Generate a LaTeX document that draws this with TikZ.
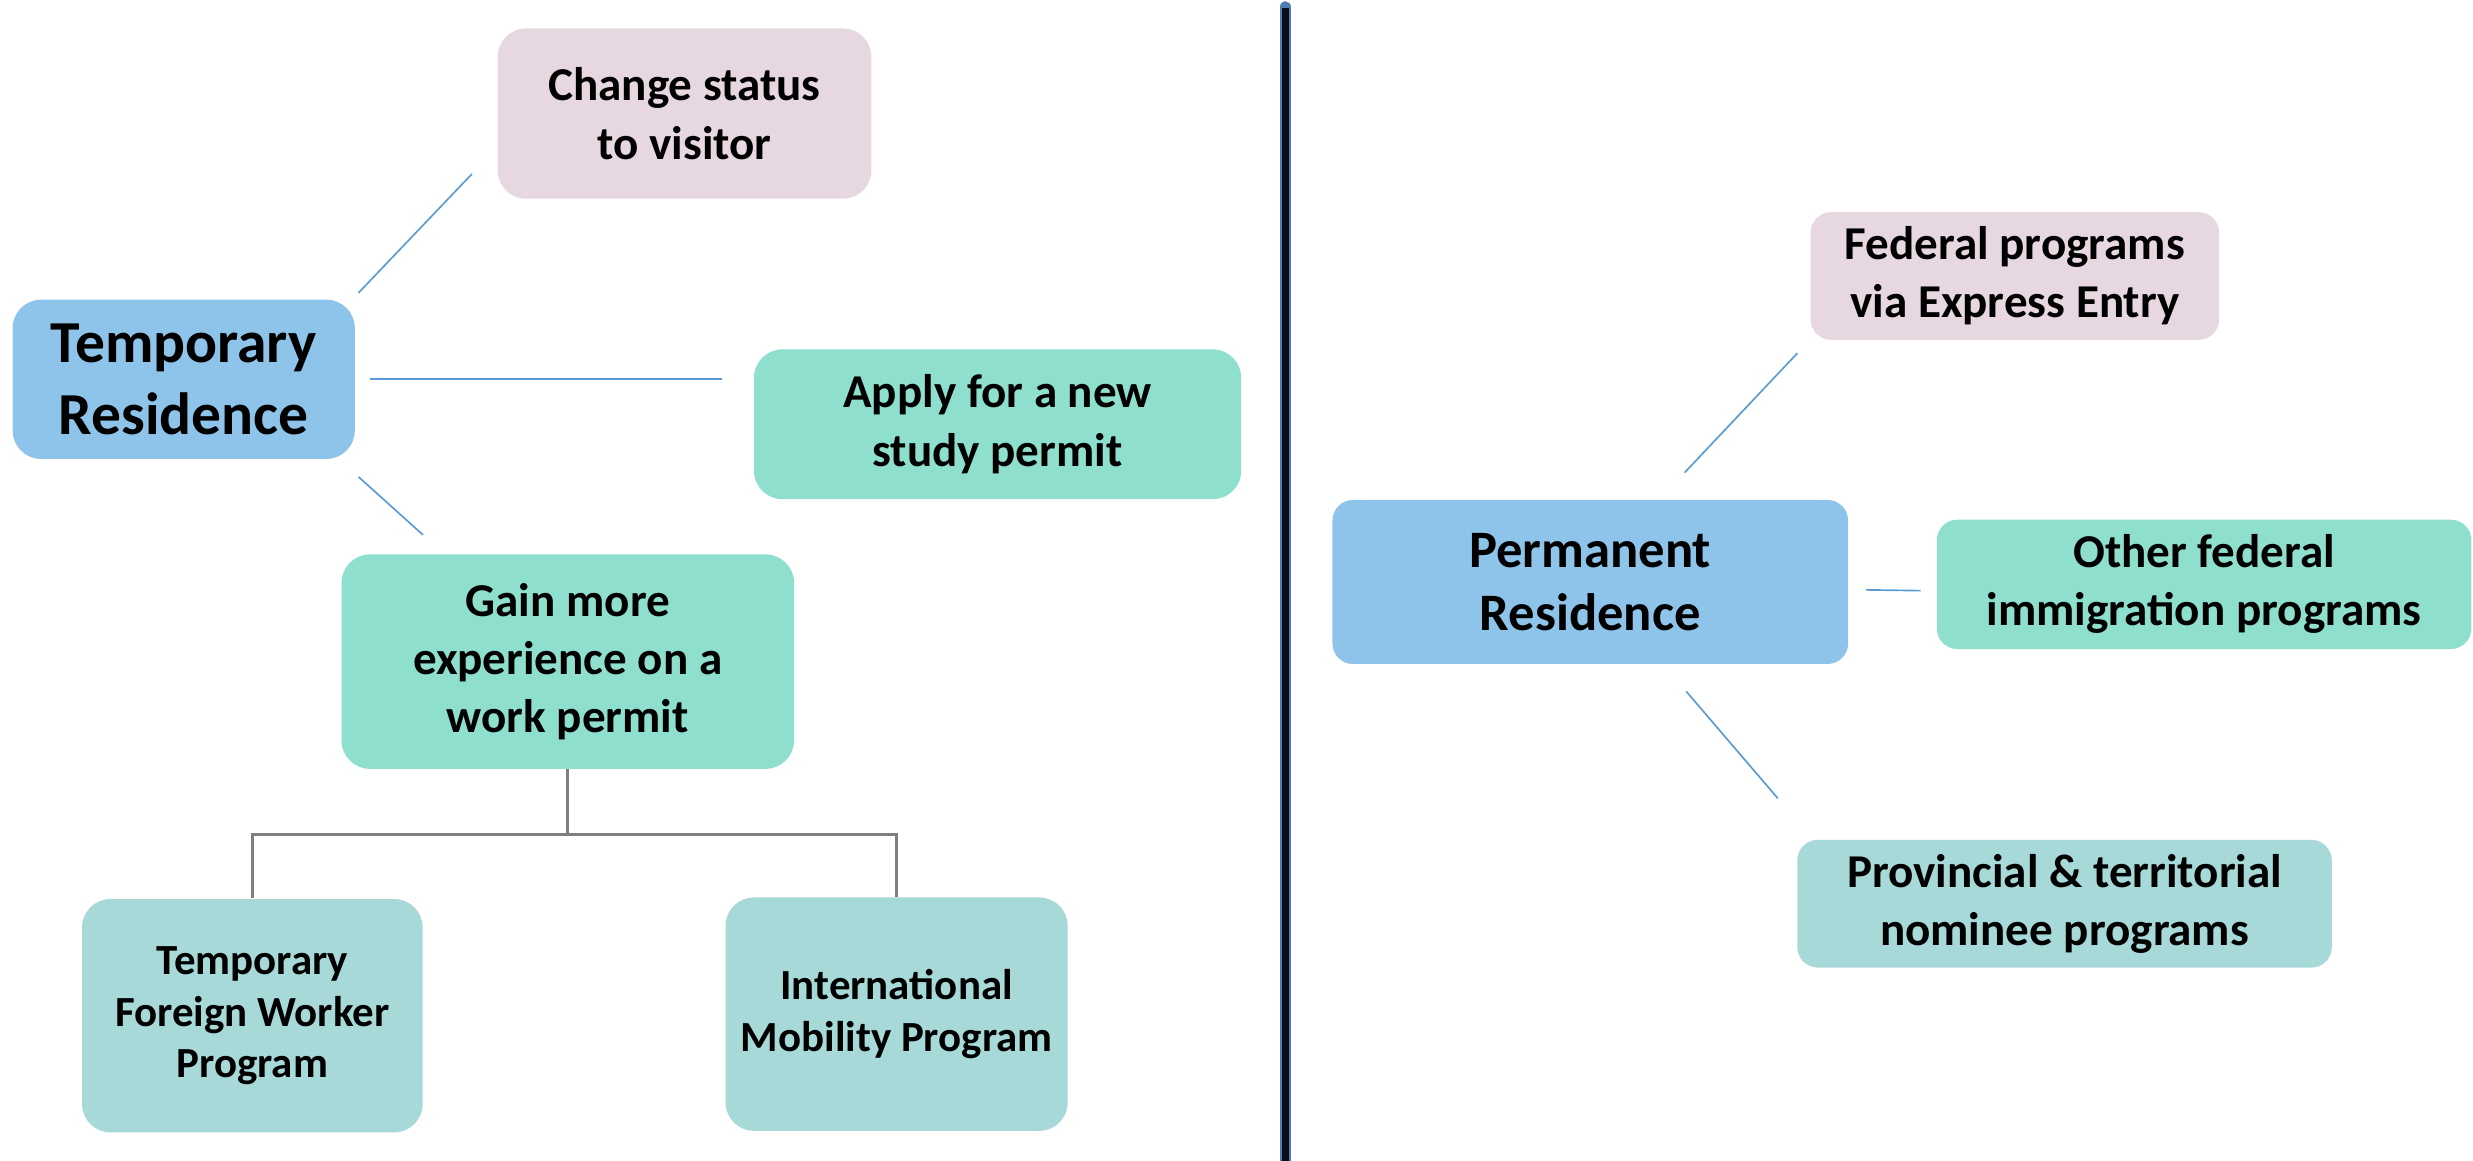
\documentclass[tikz,border=0pt]{standalone}
\usepackage{fontspec}
\setmainfont{Carlito}
\usepackage{xcolor}
\usetikzlibrary{calc}
\definecolor{hubfill}{HTML}{8EC4E9}
\definecolor{rosefill}{HTML}{E7D7E1}
\definecolor{mintfill}{HTML}{8EDFCD}
\definecolor{seafill}{HTML}{A6D9D7}
\definecolor{linkblue}{HTML}{5B9BD5}
\definecolor{treegray}{HTML}{7F7F7F}
\definecolor{edgeblue}{HTML}{4F7DB3}
\definecolor{navy}{HTML}{0B0F18}
\tikzset{
  box/.style={rounded corners=0.36cm, align=center, inner sep=0pt, text=black,
    font=\bfseries\fontsize{17}{21}\selectfont},
  hub/.style={box, fill=hubfill},
  rose/.style={box, fill=rosefill},
  mint/.style={box, fill=mintfill},
  sea/.style={box, fill=seafill},
  small/.style={font=\bfseries\fontsize{15.5}{18.5}\selectfont},
  tight/.style={rounded corners=0.26cm},
  link/.style={draw=linkblue, line width=0.6pt},
  tree/.style={draw=treegray, line width=1.1pt},
  divider/.style={draw=navy, line width=2.5pt},
}
\begin{document}
\begin{tikzpicture}[x=0.02cm, y=-0.02cm]
  \useasboundingbox (0,0) rectangle (1568,735.5);
  % temporary side
  \node[hub, minimum width=4.34cm, minimum height=2.02cm, font=\bfseries\fontsize{21.5}{26}\selectfont]
    (TR) at (116.5,240.5) {Temporary\\Residence};
  \node[rose, minimum width=4.74cm, minimum height=2.16cm] (CS) at (434,72) {Change status\\to visitor};
  \node[mint, minimum width=6.18cm, minimum height=1.90cm] (AS) at (632.5,269) {Apply for a new\\study permit};
  \node[mint, minimum width=5.74cm, minimum height=2.72cm] (GM) at (360,419.5) {Gain more\\experience on a\\work permit};
  \node[sea, small, minimum width=4.32cm, minimum height=2.96cm] (TFW) at (160,644) {Temporary\\Foreign Worker\\Program};
  \node[sea, small, minimum width=4.34cm, minimum height=2.96cm] (IMP) at (568.5,643) {International\\Mobility Program};
  \draw[link] ([shift={(2,-4)}]TR.north east) -- ([shift={(-16,-16)}]CS.south west);
  \draw[link, shorten <=0.18cm, shorten >=0.40cm] (TR.east) -- (TR.east -| AS.west);
  \draw[link] ([shift={(2,11)}]TR.south east) -- ([shift={(52,-12)}]GM.north west);
  \draw[tree] (GM.south) -- ++(0,41) coordinate (fork) -| (TFW.north);
  \draw[tree] (fork) -| (IMP.north);
  % divider
  \draw[draw=edgeblue, line width=4.2pt, line cap=round] (815,4.5) -- (815,740);
  \draw[divider] (815,5) -- (815,740);
  % permanent side
  \node[hub, tight, minimum width=6.54cm, minimum height=2.08cm, font=\bfseries\fontsize{19}{22.8}\selectfont]
    (PR) at (1008.3,369) {Permanent\\Residence};
  \node[rose, tight, minimum width=5.18cm, minimum height=1.62cm] (FP) at (1277.5,175) {Federal programs\\via Express Entry};
  \node[mint, tight, minimum width=6.78cm, minimum height=1.64cm] (OF) at (1397.5,370.5) {Other federal\\immigration programs};
  \node[sea, tight, minimum width=6.78cm, minimum height=1.62cm] (PT) at (1309,573) {Provincial \& territorial\\nominee programs};
  \draw[link] ([shift={(-104,-17)}]PR.north east) -- ([shift={(-8,8)}]FP.south west);
  \draw[link] ([shift={(11,5)}]PR.east) -- ([shift={(-10,4)}]OF.west);
  \draw[link] ([shift={(-103,17)}]PR.south east) -- ([shift={(-12,-26)}]PT.north west);
\end{tikzpicture}
\end{document}
